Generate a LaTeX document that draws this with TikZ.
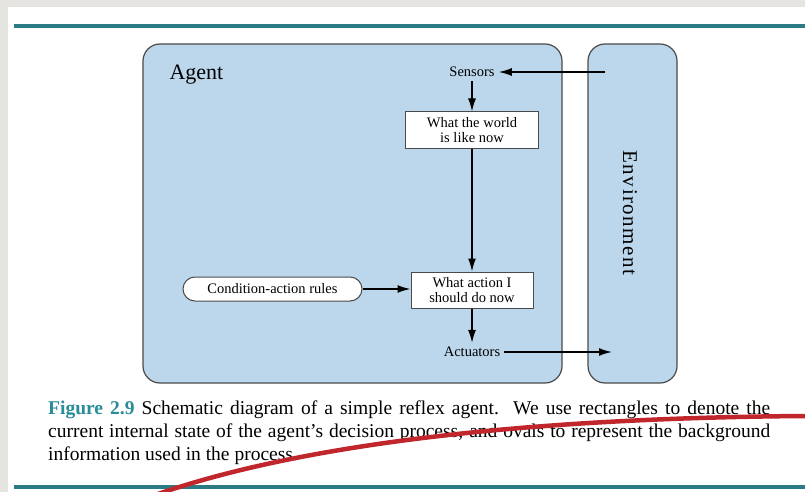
\documentclass[tikz,border=0pt]{standalone}
\usepackage{fontspec}
\setmainfont{Liberation Serif}
\usetikzlibrary{arrows.meta}
\definecolor{pagegrey}{HTML}{E6E4E0}
\definecolor{agentblue}{HTML}{BCD7EB}
\definecolor{ruleteal}{HTML}{2B7A84}
\definecolor{capteal}{HTML}{2A8C98}
\definecolor{edgegrey}{HTML}{4A4A4A}
\definecolor{penred}{HTML}{C0262C}
\tikzset{
  panel/.style={fill=agentblue, draw=edgegrey, line width=1.2pt, rounded corners=17pt},
  statebox/.style={draw=edgegrey, fill=white, line width=1pt, align=center,
    font=\fontsize{14.5}{15.5}\selectfont, inner sep=0pt},
  rulebox/.style={draw=edgegrey, fill=white, line width=1pt, rounded corners=12pt,
    font=\fontsize{14.5}{14}\selectfont, inner sep=0pt},
  label/.style={font=\fontsize{14.5}{14}\selectfont, inner sep=4pt},
  flow/.style={line width=1.6pt, -{Latex[length=13pt,width=8pt]}},
  tealrule/.style={ruleteal, line width=4pt},
}
\begin{document}
\begin{tikzpicture}[x=1pt,y=-1pt]
  \useasboundingbox (0,0) rectangle (805,492);
  % page on a grey surround
  \fill[pagegrey] (0,0) rectangle (805,492);
  \fill[white] (8,7) rectangle (805,492);
  \draw[tealrule] (14,26) -- (805,26);
  \draw[tealrule] (14,487) -- (805,487);

  % agent and environment panels
  \draw[panel] (143,44) rectangle (562,383);
  \draw[panel] (588,44) rectangle (677,383);
  \node[font=\fontsize{22}{22}\selectfont, anchor=west] (agent) at (166,75) {Agent};
  \node[font=\fontsize{21}{21}\selectfont, rotate=-90] (env) at (630,213)
    {E\hspace{1.5pt}n\hspace{1.5pt}v\hspace{1.5pt}i\hspace{1.5pt}r\hspace{1.5pt}o\hspace{1.5pt}n\hspace{1.5pt}m\hspace{1.5pt}e\hspace{1.5pt}n\hspace{1.5pt}t};

  % inside the agent
  \node[label] (sensors) at (472,72) {Sensors};
  \node[statebox, minimum width=133pt, minimum height=36pt] (world) at (472,130)
    {What the world\\is like now};
  \node[statebox, minimum width=122pt, minimum height=36pt] (action) at (472,290)
    {What action I\\should do now};
  \node[rulebox, minimum width=179pt, minimum height=24pt] (rules) at (272.5,289)
    {Condition-action rules};
  \node[label] (actuators) at (472,352) {Actuators};

  \coordinate (envin) at (605,72);
  \coordinate (envout) at (612,352);

  \draw[flow] (envin) -- (sensors.east);
  \draw[flow] (sensors.south) -- (world.north);
  \draw[flow] (world.south) -- (action.north);
  \draw[flow] (rules.east) -- (rules.east -| action.west);
  \draw[flow] (action.south) -- (actuators.north);
  \draw[flow] (actuators.east) -- (envout);

  % caption
  \node[anchor=north west, text width=722pt, align=justify, inner sep=0pt,
        font=\fontsize{19.5}{23}\selectfont] (caption) at (48,401)
    {{\color{capteal}\textbf{Figure 2.9}} Schematic diagram of a simple reflex agent.\ \ We use rectangles to denote the\linebreak
     current internal state of the agent's decision process, and ovals to represent the background\linebreak
     information used in the process.};

  % pen stroke across the caption
  \draw[penred, line width=4.5pt, line cap=round]
    (158,494) .. controls (300,445) and (520,418) .. (805,416);
\end{tikzpicture}
\end{document}
